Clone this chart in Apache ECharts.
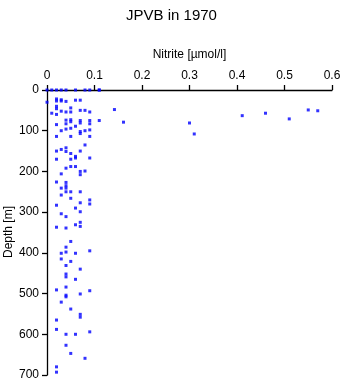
<!DOCTYPE html>
<html><head><meta charset="utf-8">
<script src="https://cdn.jsdelivr.net/npm/echarts@6/dist/echarts.min.js"></script>
<style>html,body{margin:0;padding:0;background:#fff}#c{width:343px;height:384px}</style>
</head><body><div id="c"></div>
<script>
var title = "JPVB in 1970";
var xName = "Nitrite [\u00b5mol/l]";
var yName = "Depth [m]";
var xTicks = [0, 0.1, 0.2, 0.3, 0.4, 0.5, 0.6];
var yTicks = [0, 100, 200, 300, 400, 500, 600, 700];

var nitrite = [
 0.00,0.01,0.02,0.03,0.04,0.06,0.08,0.09,0.11,
 0.00,0.02,0.02,0.03,0.03,0.04,0.06,0.07,
 0.02,0.02,0.01,0.03,0.05,0.04,0.05,0.07,0.08,0.09,0.02,
 0.05,0.05,0.07,0.07,0.09,0.09,0.04,0.04,0.02,0.06,0.04,0.03,0.05,0.07,0.07,0.08,0.09,
 0.02,0.05,0.09,0.08,0.02,0.03,0.04,0.04,0.05,0.07,0.06,0.06,0.02,0.05,0.09,
 0.05,0.06,0.04,0.07,0.07,0.08,0.03,0.02,0.04,0.04,0.04,0.03,0.04,0.05,0.07,0.03,0.05,
 0.07,0.09,0.09,0.02,0.06,0.07,0.03,0.04,0.06,0.07,0.07,
 0.02,0.04,0.05,0.04,0.04,0.03,0.06,0.09,0.03,0.05,0.04,0.07,0.04,0.04,0.06,
 0.04,0.02,0.09,0.07,0.04,0.04,0.03,0.05,0.07,0.07,0.02,0.02,0.09,0.04,0.06,
 0.04,0.05,0.08,0.02,0.02,
 0.11,0.11,0.142,0.161,0.30,0.31,0.411,0.46,0.51,0.55,0.57
];
var depth = [
 0,0,0,0,0,0,0,0,0,
 30,22,27,24,27,28,25,25,
 40,46,57,52,44,54,54,50,50,54,60,
 73,78,75,81,75,83,74,83,85,89,96,100,94,102,107,100,98,
 114,114,114,135,150,146,142,151,156,150,163,167,170,170,167,
 188,188,192,200,208,199,206,226,227,235,241,241,250,250,250,258,266,
 277,270,280,283,290,299,304,311,331,325,335,
 337,339,372,386,398,401,401,395,415,421,431,440,452,459,465,
 484,491,493,501,504,508,521,538,551,558,565,588,594,600,600,
 627,647,659,680,693,
 0,75,48,79,81,108,63,57,71,49,51
];

var pts = nitrite.map(function(v, i){ return [v, depth[i]]; });
var chart = echarts.init(document.getElementById('c'));
var font = 'Liberation Sans, Arial, sans-serif';
chart.setOption({
  animation: false,
  title: { text: title, left: 'center', top: 3,
    textStyle: { fontFamily: font, fontSize: 15, fontWeight: 'normal', color: '#000' } },
  grid: { left: 47, top: 90, width: 285, height: 285, containLabel: false, outerBoundsMode: 'none' },
  graphic: [{
    type: 'text', x: 9, y: 232, rotation: Math.PI / 2,
    style: { text: yName, fontFamily: font, fontSize: 12, fill: '#000',
      textAlign: 'center', textVerticalAlign: 'middle' }
  }],
  xAxis: {
    type: 'value', position: 'top', min: 0, max: 0.6, interval: 0.1,
    name: xName, nameLocation: 'middle', nameGap: 29, nameMoveOverlap: false,
    nameTextStyle: { fontFamily: font, fontSize: 12, color: '#000' },
    axisLine: { show: true, onZero: false, lineStyle: { color: '#000', width: 1.3 } },
    axisTick: { show: true, length: 5, lineStyle: { color: '#000', width: 1.3 } },
    axisLabel: { fontFamily: font, fontSize: 12, color: '#000', margin: 8,
      formatter: function(v){ return xTicks.indexOf(Math.round(v*10)/10) >= 0 ? String(Math.round(v*10)/10) : ''; } },
    splitLine: { show: false }
  },
  yAxis: {
    type: 'value', inverse: true, min: 0, max: 700, interval: 100,
    axisLine: { show: true, onZero: false, lineStyle: { color: '#000', width: 1.3 } },
    axisTick: { show: true, length: 5, lineStyle: { color: '#000', width: 1.3 } },
    axisLabel: { fontFamily: font, fontSize: 12, color: '#000', margin: 8,
      formatter: function(v){ return yTicks.indexOf(v) >= 0 ? String(v) : ''; } },
    splitLine: { show: false }
  },
  series: [{
    type: 'scatter', data: pts, symbol: 'rect', symbolSize: 3,
    itemStyle: { color: '#0000ff' }
  }]
});
</script></body></html>
